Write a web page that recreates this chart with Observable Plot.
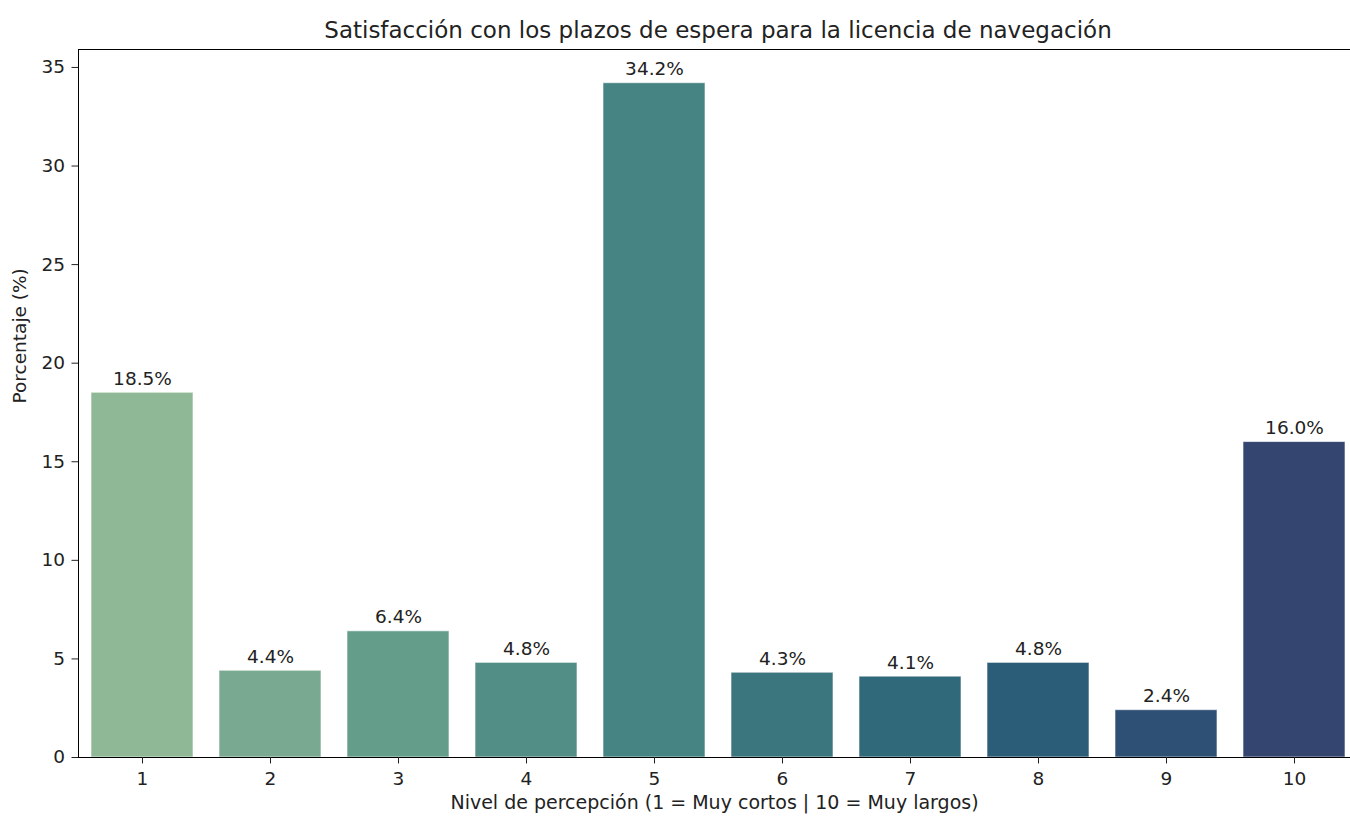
<!DOCTYPE html>
<html>
<head>
<meta charset="utf-8">
<script src="https://cdn.jsdelivr.net/npm/d3@7"></script>
<script src="https://cdn.jsdelivr.net/npm/@observablehq/plot@0.6"></script>
<style>
  html, body { margin: 0; padding: 0; background: #fff; }
  #wrap { position: relative; width: 1350px; height: 818px; overflow: hidden; font-family: "DejaVu Sans", sans-serif; }
  #title { position: absolute; left: 78px; width: 1280px; top: 17px; text-align: center; font-size: 23px; line-height: normal; color: #222; white-space: nowrap; }
</style>
</head>
<body>
<div id="wrap">
  <div id="chart"></div>
  <div id="title">Satisfacción con los plazos de espera para la licencia de navegación</div>
</div>
<script>
const levels = ["1", "2", "3", "4", "5", "6", "7", "8", "9", "10"];
const percentages = [18.5, 4.4, 6.4, 4.8, 34.2, 4.3, 4.1, 4.8, 2.4, 16.0];
const palette = ["#8fb996", "#79aa91", "#659d8b", "#538e86", "#468383", "#3b767e", "#30697a", "#2b5c78", "#2e5075", "#34466f"];
const yTicks = [0, 5, 10, 15, 20, 25, 30, 35];

const data = levels.map((l, i) => ({level: l, value: percentages[i]}));
const yMax = d3.max(percentages) * 1.05;
const fs = 18.5;

const plot = Plot.plot({
  width: 1350,
  height: 818,
  marginLeft: 78,
  marginRight: 0,
  marginTop: 49,
  marginBottom: 61,
  style: {fontFamily: "DejaVu Sans, sans-serif", fontSize: fs + "px", color: "#222", background: "#fff"},
  x: {type: "band", domain: levels, range: [78, 1358], paddingInner: 0.2, paddingOuter: 0.1, align: 0.5},
  y: {domain: [0, yMax]},
  color: {type: "ordinal", domain: levels, range: palette},
  marks: [
    Plot.barY(data, {x: "level", y: "value", fill: "level", stroke: "#ffffff", strokeOpacity: 0.6, strokeWidth: 1}),
    Plot.text(data, {x: "level", y: "value", text: d => d.value.toFixed(1) + "%", lineAnchor: "bottom", dy: -8, fill: "#222", fontSize: fs}),
    Plot.frame({anchor: "left", stroke: "#000"}),
    Plot.frame({anchor: "top", stroke: "#000"}),
    Plot.frame({anchor: "bottom", stroke: "#000"}),
    Plot.axisY({ticks: yTicks, tickSize: 6.5, tickPadding: 7, label: null, fontSize: fs}),
    Plot.axisX({tickSize: 6.5, tickPadding: 8, label: null, fontSize: fs}),
    Plot.text(["Porcentaje (%)"], {frameAnchor: "left", dx: -58, rotate: -90, fontSize: fs, fill: "#222"}),
    Plot.text(["Nivel de percepción (1 = Muy cortos | 10 = Muy largos)"], {frameAnchor: "bottom", dy: 51, fontSize: 19, fill: "#222"})
  ]
});
document.getElementById("chart").appendChild(plot);
</script>
</body>
</html>
